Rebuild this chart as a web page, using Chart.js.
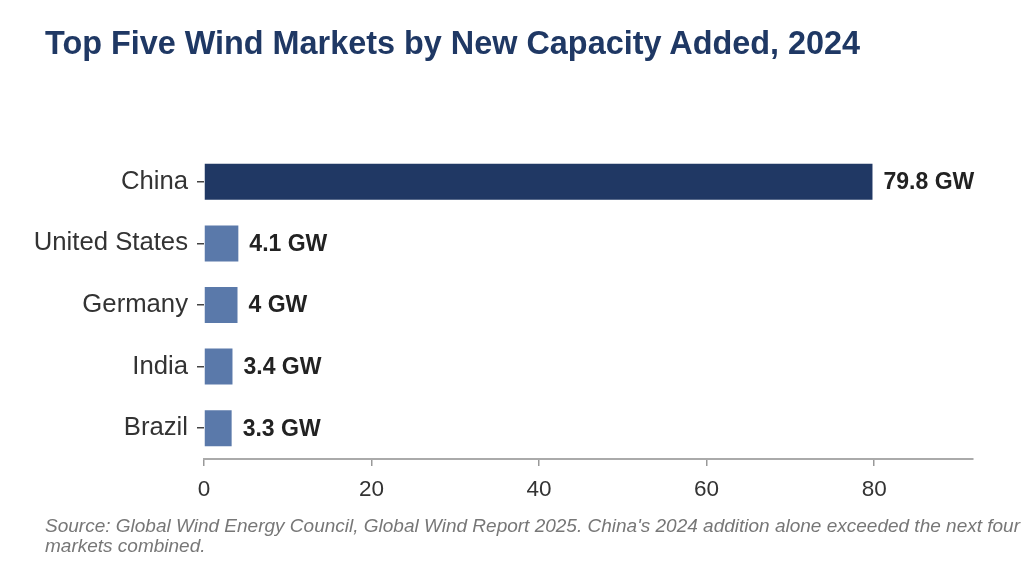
<!DOCTYPE html>
<html><head><meta charset="utf-8">
<script src="https://cdn.jsdelivr.net/npm/chart.js@4"></script>
<style>
html,body{margin:0;padding:0;background:#fff;width:1024px;height:576px;overflow:hidden;font-family:"Liberation Sans",Arial,sans-serif;}
#wrap{position:relative;width:1024px;height:576px;}
canvas{position:absolute;left:0;top:0;}
#title{position:absolute;left:45px;top:24px;font-size:32.4px;font-weight:bold;color:#1f3864;white-space:nowrap;line-height:38px;}
#source{position:absolute;left:45px;top:516px;font-size:19px;font-style:italic;color:#777;line-height:20px;white-space:nowrap;}
</style></head>
<body>
<div id="wrap">
<canvas id="c" width="1024" height="576"></canvas>
<div id="title">Top Five Wind Markets by New Capacity Added, 2024</div>
<div id="source">Source: Global Wind Energy Council, Global Wind Report 2025. China's 2024 addition alone exceeded the next four<br>markets combined.</div>
</div>
<script>
const categories = ["China", "United States", "Germany", "India", "Brazil"];
const capacityGW = [79.8, 4.1, 4.0, 3.4, 3.3];
const valueLabels = ["79.8 GW", "4.1 GW", "4 GW", "3.4 GW", "3.3 GW"];
const xTickValues = [0, 20, 40, 60, 80];
const xMax = 91.8;

const NAVY = "#203864";
const STEEL = "#5a79aa";

const valueLabelPlugin = {
  id: "valueLabels",
  afterDatasetsDraw(chart) {
    const ctx = chart.ctx;
    const meta = chart.getDatasetMeta(0);
    ctx.save();
    ctx.font = "bold 23px 'Liberation Sans', Arial, sans-serif";
    ctx.fillStyle = "#222";
    ctx.textAlign = "left";
    ctx.textBaseline = "middle";
    meta.data.forEach((bar, i) => {
      ctx.fillText(valueLabels[i], bar.x + 11, bar.y + 1);
    });
    ctx.restore();
  }
};

new Chart(document.getElementById("c"), {
  type: "bar",
  data: {
    labels: categories,
    datasets: [{
      data: capacityGW,
      backgroundColor: ctx => ctx.dataIndex === 0 ? NAVY : STEEL,
      borderWidth: 0,
      barPercentage: 0.585,
      categoryPercentage: 1
    }]
  },
  options: {
    indexAxis: "y",
    responsive: false,
    devicePixelRatio: 1,
    animation: false,
    layout: { padding: { top: 151, right: 51, bottom: 0, left: 0 } },
    plugins: { legend: { display: false }, tooltip: { enabled: false }, title: { display: false } },
    scales: {
      y: {
        afterFit(s) { s.width = 204; },
        grid: { display: true, drawOnChartArea: false, drawTicks: true, tickLength: 7, offset: false, color: "#444", lineWidth: 1.5 },
        border: { display: false },
        ticks: { color: "#333", padding: 9, font: { size: 25.7, family: "'Liberation Sans', Arial, sans-serif" } }
      },
      x: {
        min: 0,
        max: xMax,
        afterBuildTicks(s) { s.ticks = xTickValues.map(v => ({ value: v })); },
        afterFit(s) { s.height = 117; },
        grid: { display: true, drawOnChartArea: false, drawTicks: true, tickLength: 7, color: "#999", lineWidth: 1.5 },
        border: { display: true, color: "#aaa", width: 2 },
        ticks: { color: "#333", padding: 10, font: { size: 22.5, family: "'Liberation Sans', Arial, sans-serif" } }
      }
    }
  },
  plugins: [valueLabelPlugin]
});
</script>
</body></html>
